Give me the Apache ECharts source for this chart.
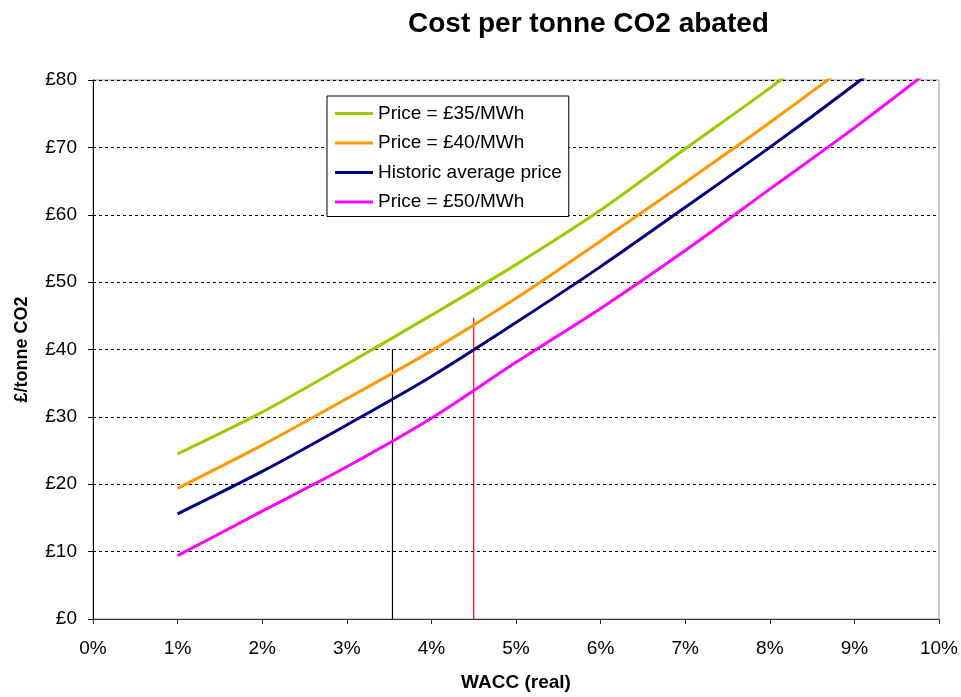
<!DOCTYPE html>
<html>
<head>
<meta charset="utf-8">
<script src="https://cdn.jsdelivr.net/npm/echarts@6/dist/echarts.min.js"></script>
<style>html,body{margin:0;padding:0;background:#fff;}#c{width:961px;height:697px;}</style>
</head>
<body>
<div id="c"></div>
<script>
// WACC (real), %
const wacc = [1, 2, 3, 4, 5, 6, 7, 8, 9, 10];
// £/tonne CO2
const price35 = [24.5, 30.7, 37.8, 45.1, 52.6, 60.7, 69.8, 78.8, 88.3, 98.0];
const price40 = [19.4, 25.8, 32.7, 39.8, 47.6, 56.1, 64.8, 73.7, 83.0, 93.0];
const historic = [15.6, 21.9, 28.8, 36.0, 44.0, 52.3, 61.1, 70.0, 79.3, 89.0];
const price50 = [9.4, 16.0, 22.6, 29.8, 38.1, 46.1, 54.7, 63.8, 72.9, 82.5];
const seriesNames = ['Price = £35/MWh', 'Price = £40/MWh', 'Historic average price', 'Price = £50/MWh'];
// reference markers: [wacc, top value]
const blackMarker = [3.54, 40];
const redMarker = [4.5, 44.7];
const xTicks = ['0%','1%','2%','3%','4%','5%','6%','7%','8%','9%','10%'];
const yTicks = ['£0','£10','£20','£30','£40','£50','£60','£70','£80'];

const colors = ['#99CC00', '#FF9900', '#000080', '#FF00FF'];
const values = [price35, price40, historic, price50];

const font = "'Liberation Sans', Arial, sans-serif";
const chart = echarts.init(document.getElementById('c'));

const lineSeries = values.map((v, i) => ({
  name: seriesNames[i],
  type: 'line',
  data: wacc.map((x, j) => [x, v[j]]),
  symbol: 'none',
  smooth: 0.3,
  clip: true,
  lineStyle: { color: colors[i], width: 3 },
  itemStyle: { color: colors[i] },
  z: 3
}));

const markerSeries = [[blackMarker, '#000'], [redMarker, '#FF0000']].map(([m, c]) => ({
  type: 'line',
  data: [[m[0], 0], [m[0], m[1]]],
  symbol: 'none',
  lineStyle: { color: c, width: 1.2 },
  silent: true,
  z: 2
}));

chart.setOption({
  animation: false,
  backgroundColor: '#fff',
  title: {
    text: 'Cost per tonne CO2 abated',
    left: 403,
    top: 5,
    textStyle: { fontFamily: font, fontSize: 28, fontWeight: 'bold', color: '#000' }
  },
  legend: {
    data: seriesNames,
    orient: 'vertical',
    left: 327,
    top: 96,
    padding: [8, 7, 5, 8],
    backgroundColor: '#fff',
    borderColor: '#000',
    borderWidth: 1,
    icon: 'rect',
    itemWidth: 38,
    itemHeight: 3,
    itemGap: 10.5,
    textStyle: { fontFamily: font, fontSize: 19, color: '#000' }
  },
  grid: {
    left: 93, right: 20, top: 80, bottom: 73,
    show: true, borderColor: '#999', borderWidth: 1, backgroundColor: 'transparent'
  },
  xAxis: {
    type: 'value',
    min: 0, max: 10, interval: 1,
    name: 'WACC (real)',
    nameLocation: 'middle',
    nameGap: 54,
    nameTextStyle: { fontFamily: font, fontSize: 19, fontWeight: 'bold', color: '#000' },
    axisLine: { show: true, lineStyle: { color: '#333', width: 1 } },
    axisTick: { show: true, inside: false, length: 5, lineStyle: { color: '#333' } },
    axisLabel: {
      fontFamily: font, fontSize: 19, color: '#000', margin: 20,
      formatter: (v) => xTicks[Math.round(v)]
    },
    splitLine: { show: false }
  },
  yAxis: {
    type: 'value',
    min: 0, max: 80, interval: 10,
    name: '£/tonne CO2',
    nameLocation: 'middle',
    nameGap: 62,
    nameRotate: 90,
    nameTextStyle: { fontFamily: font, fontSize: 18, fontWeight: 'bold', color: '#000' },
    axisLine: { show: true, lineStyle: { color: '#000', width: 1 } },
    axisTick: { show: true, inside: false, length: 5, lineStyle: { color: '#000' } },
    axisLabel: {
      fontFamily: font, fontSize: 19, color: '#000', margin: 16,
      formatter: (v) => yTicks[Math.round(v / 10)]
    },
    splitLine: { show: true, lineStyle: { color: '#000', type: [3, 3], width: 1 } }
  },
  series: [...markerSeries, ...lineSeries]
});
</script>
</body>
</html>
